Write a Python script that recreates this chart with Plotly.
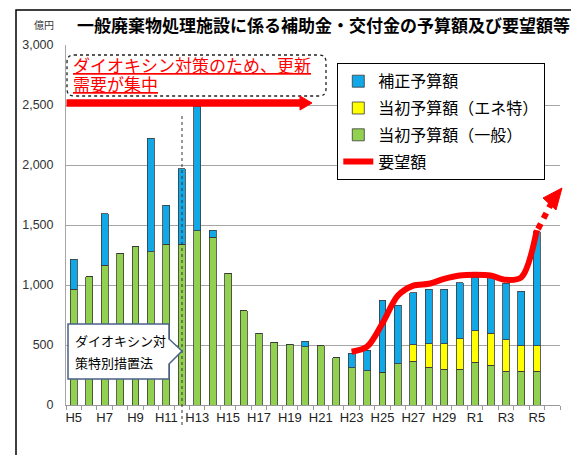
import plotly.graph_objects as go

years = ['H5','H6','H7','H8','H9','H10','H11','H12','H13','H14','H15','H16','H17','H18','H19','H20',
         'H21','H22','H23','H24','H25','H26','H27','H28','H29','H30','R1','R2','R3','R4','R5']
axis_categories = years + ['R6']
tick_labels = ['H5','','H7','','H9','','H11','','H13','','H15','','H17','','H19','',
               'H21','','H23','','H25','','H27','','H29','','R1','','R3','','R5','']

general = [965,1068,1166,1266,1320,1277,1341,1341,1452,1397,1100,786,597,525,505,486,
           494,394,311,286,272,344,364,314,297,297,358,333,283,283,283]
energy = [0,0,0,0,0,0,0,0,0,0,0,0,0,0,0,0,
          0,0,0,0,0,0,139,197,214,256,259,264,259,211,211]
supplementary = [251,0,428,0,0,944,325,629,1038,58,0,0,0,0,0,44,
                 0,0,122,169,603,486,433,453,453,466,448,463,471,453,950]
requested = [None]*18 + [444,486,681,912,995,1010,1051,1079,1085,1079,1043,1065,1458]

JP = "Noto Sans CJK JP"
L, R, T, B = 66, 560, 45, 405
W, H = R - L, B - T

def px(x):
    return (x - L) / W

def py(y):
    return (B - y) / H

fig = go.Figure()
fig.add_bar(x=years, y=general, name='当初予算額（一般）', marker=dict(color='#92D050', line=dict(color='#3a3a3a', width=0.8)),
            legendrank=3, legendgroup='c')
fig.add_bar(x=years, y=energy, name='当初予算額（エネ特）', marker=dict(color='#FFFF00', line=dict(color='#3a3a3a', width=0.8)),
            legendrank=2, legendgroup='b')
fig.add_bar(x=years, y=supplementary, name='補正予算額', marker=dict(color='#10A8E6', line=dict(color='#3a3a3a', width=0.8)),
            legendrank=1, legendgroup='a')
fig.add_scatter(x=years, y=requested, name='要望額', mode='lines',
                line=dict(color='#FF0000', width=6, shape='spline', smoothing=0.9),
                legendrank=4, legendgroup='d')

shapes = []
# outer frame
shapes.append(dict(type='rect', xref='paper', yref='paper', x0=px(16), x1=px(620), y0=py(10), y1=py(500),
                   line=dict(color='black', width=1.5), layer='below'))
# dotted rounded box
def rounded(x0, y0, x1, y1, r):
    return (f"M {px(x0+r)},{py(y0)} L {px(x1-r)},{py(y0)} Q {px(x1)},{py(y0)} {px(x1)},{py(y0+r)} "
            f"L {px(x1)},{py(y1-r)} Q {px(x1)},{py(y1)} {px(x1-r)},{py(y1)} L {px(x0+r)},{py(y1)} "
            f"Q {px(x0)},{py(y1)} {px(x0)},{py(y1-r)} L {px(x0)},{py(y0+r)} Q {px(x0)},{py(y0)} {px(x0+r)},{py(y0)} Z")
shapes.append(dict(type='path', xref='paper', yref='paper', path=rounded(67, 55, 326, 96, 7),
                   line=dict(color='#222', width=1.3, dash='dot'), fillcolor='white'))
# top red arrow
shapes.append(dict(type='line', xref='paper', yref='paper', x0=px(66.5), x1=px(303), y0=py(103), y1=py(103),
                   line=dict(color='#FF0000', width=7.5)))
shapes.append(dict(type='path', xref='paper', yref='paper',
                   path=f"M {px(300)},{py(96)} L {px(312)},{py(103)} L {px(300)},{py(110)} Z",
                   fillcolor='#FF0000', line=dict(color='#FF0000', width=1)))
# dotted vertical at H12
shapes.append(dict(type='line', xref='paper', yref='paper', x0=px(182), x1=px(182), y0=py(116), y1=py(428),
                   line=dict(color='#333', width=1, dash='dot')))
# red dotted extension and arrowhead
shapes.append(dict(type='line', xref='paper', yref='paper', x0=px(538), x1=px(551), y0=py(229), y1=py(204),
                   line=dict(color='#FF0000', width=6, dash='dot')))
shapes.append(dict(type='path', xref='paper', yref='paper',
                   path=f"M {px(562)},{py(188)} L {px(543)},{py(198)} L {px(556)},{py(210)} Z",
                   fillcolor='#FF0000', line=dict(color='#FF0000', width=1)))
# callout
shapes.append(dict(type='path', xref='paper', yref='paper',
                   path=(f"M {px(68)},{py(324)} L {px(169)},{py(324)} L {px(169)},{py(339)} L {px(182)},{py(351)} "
                         f"L {px(169)},{py(364)} L {px(169)},{py(379)} L {px(68)},{py(379)} Z"),
                   fillcolor='white', line=dict(color='#4A6288', width=1.5)))

annotations = [
    dict(text='<b>一般廃棄物処理施設に係る補助金・交付金の予算額及び要望額等</b>', x=px(75), y=py(25),
         xanchor='left', yanchor='middle', font=dict(family=JP, size=17, color='black')),
    dict(text='億円', x=px(44), y=py(25), xanchor='center', yanchor='middle', font=dict(family=JP, size=10, color='#333')),
    dict(text='<u>ダイオキシン対策のため、更新</u>', x=px(71), y=py(64), xanchor='left', yanchor='middle',
         font=dict(family=JP, size=17, color='#FF0000')),
    dict(text='<u>需要が集中</u>', x=px(71), y=py(84), xanchor='left', yanchor='middle',
         font=dict(family=JP, size=17, color='#FF0000')),
    dict(text='ダイオキシン対', x=px(73), y=py(340), xanchor='left', yanchor='middle',
         font=dict(family=JP, size=13, color='black')),
    dict(text='策特別措置法', x=px(73), y=py(362), xanchor='left', yanchor='middle',
         font=dict(family=JP, size=13, color='black')),
]
for a in annotations:
    a.update(xref='paper', yref='paper', showarrow=False)

fig.update_layout(
    width=571, height=455,
    margin=dict(l=L, r=571 - R, t=T, b=455 - B, autoexpand=False),
    paper_bgcolor='white', plot_bgcolor='white',
    barmode='stack', bargap=0.55,
    showlegend=True,
    legend=dict(x=px(337), y=py(63), xanchor='left', yanchor='top', bgcolor='white',
                bordercolor='black', borderwidth=1.3, font=dict(family=JP, size=16, color='black'),
                traceorder='grouped', tracegroupgap=3, itemwidth=30),
    shapes=shapes, annotations=annotations,
    xaxis=dict(type='category', categoryorder='array', categoryarray=axis_categories,
               tickmode='array', tickvals=axis_categories, ticktext=tick_labels,
               tickson='boundaries', ticks='outside', ticklen=4, tickcolor='#999', tickangle=0,
               showline=True, linecolor='#999', showgrid=False, range=[-0.5, 31.5], automargin=False,
               tickfont=dict(family='Liberation Sans Narrow, Liberation Sans', size=13, color='#222')),
    yaxis=dict(range=[0, 3000], dtick=500, tickformat=',', showgrid=True, gridcolor='#A6A6A6', gridwidth=1,
               showline=True, linecolor='#A6A6A6', zeroline=False, ticklabelstandoff=9, automargin=False,
               tickfont=dict(family='Liberation Sans', size=12.5, color='#333')),
    font=dict(family=JP),
)

fig.write_html('out.html', config={'displayModeBar': False},
               post_script="document.body.style.margin='0';document.body.style.overflow='hidden';")
